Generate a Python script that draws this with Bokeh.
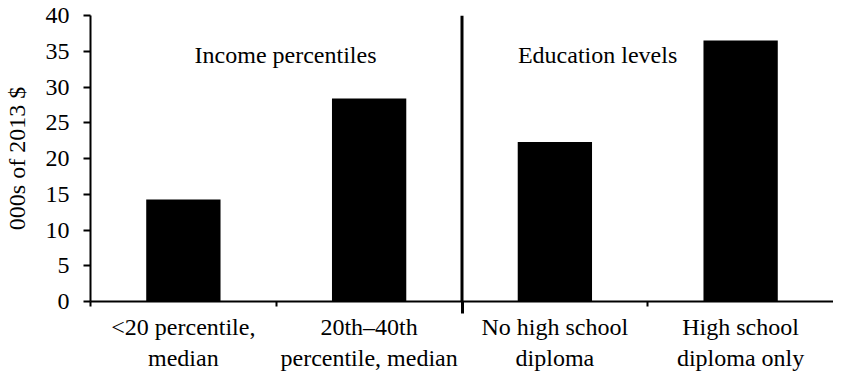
from bokeh.plotting import figure
from bokeh.models import ColumnDataSource, FixedTicker, Range1d, Label, Arrow, LinearAxis
from bokeh.embed import file_html
from bokeh.resources import INLINE
import numpy as np

categories = ["<20 percentile,\nmedian", "20th\u201340th\npercentile, median",
              "No high school\ndiploma", "High school\ndiploma only"]
values = [14.25, 28.4, 22.3, 36.5]
group_labels = ["Income percentiles", "Education levels"]
y_ticks = [0, 5, 10, 15, 20, 25, 30, 35, 40]

FONT = "Liberation Serif"
n = len(categories)
xpos = np.arange(n) + 0.5
split = n // 2

src = ColumnDataSource(dict(x=xpos, top=values))

p = figure(width=833, height=373, output_backend="svg", toolbar_location=None,
           x_range=Range1d(0, n), y_range=Range1d(0, 40),
           min_border_left=80, min_border_right=0, min_border_top=15, min_border_bottom=0)
p.outline_line_color = None
p.xgrid.grid_line_color = None
p.ygrid.grid_line_color = None
p.background_fill_color = "white"

p.vbar(x="x", top="top", width=0.4, bottom=0, source=src, fill_color="black", line_color=None)

# y axis
ya = p.yaxis[0]
ya.ticker = FixedTicker(ticks=y_ticks)
ya.axis_label = "000s of 2013 $"
ya.axis_label_text_font = FONT
ya.axis_label_text_font_size = "24px"
ya.axis_label_text_font_style = "normal"
ya.axis_label_standoff = 13
ya.major_label_text_font = FONT
ya.major_label_text_font_size = "24px"
ya.major_label_standoff = 14
ya.major_tick_out = 7
ya.major_tick_in = 0
ya.minor_tick_out = 0
ya.minor_tick_in = 0
ya.axis_line_width = 2
ya.major_tick_line_width = 2
ya.axis_line_color = "black"
ya.major_tick_line_color = "black"
ya.major_label_text_color = "black"
ya.axis_label_text_color = "black"

# x axis line with group-boundary ticks (the divider tick is longer)
xa = p.xaxis[0]
xa.ticker = FixedTicker(ticks=[split], minor_ticks=[0, 1, 3])
xa.major_label_overrides = {split: ""}
xa.major_label_text_font_size = "1px"
xa.major_label_standoff = 0
xa.major_tick_out = 12
xa.major_tick_in = 0
xa.major_tick_line_width = 3
xa.major_tick_line_color = "black"
xa.minor_tick_out = 5
xa.minor_tick_in = 0
xa.minor_tick_line_width = 2
xa.minor_tick_line_color = "black"
xa.axis_line_width = 2
xa.axis_line_color = "black"

# category labels under each bar
xl = LinearAxis(ticker=FixedTicker(ticks=list(xpos), minor_ticks=[]))
xl.major_label_overrides = {float(x): c for x, c in zip(xpos, categories)}
xl.major_label_text_font = FONT
xl.major_label_text_font_size = "24px"
xl.major_label_text_color = "black"
xl.major_label_standoff = 0
xl.axis_line_color = None
xl.major_tick_line_color = None
xl.minor_tick_line_color = None
xl.major_tick_out = 0
xl.major_tick_in = 0
p.add_layout(xl, "below")

# divider between the two groups
p.add_layout(Arrow(end=None, x_start=split, y_start=0, x_end=split, y_end=40,
                   line_color="black", line_width=3))

# group labels
for lx, txt in zip([1.05, 2.73], group_labels):
    p.add_layout(Label(x=lx, y=34.5, text=txt, text_align="center", text_baseline="alphabetic",
                       text_font=FONT, text_font_size="24px", text_color="black"))

open("out.html", "w").write(file_html(p, INLINE))
